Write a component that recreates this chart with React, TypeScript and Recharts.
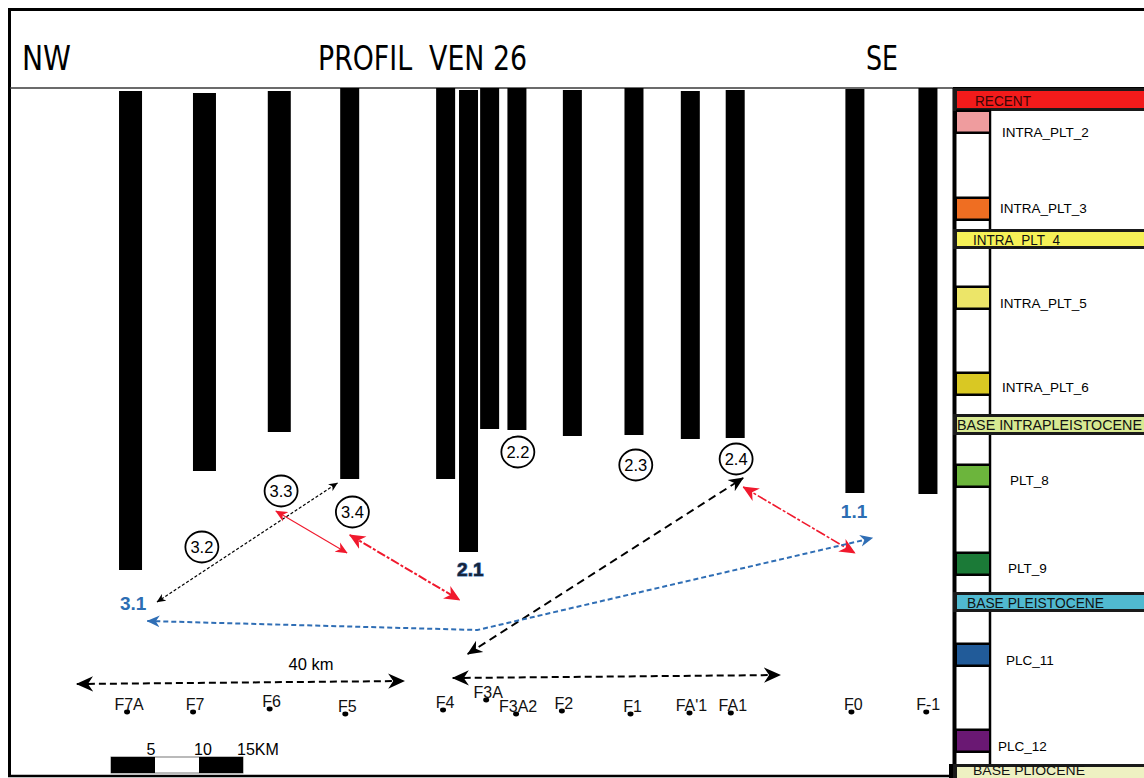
import React from 'react';
import { ComposedChart, Bar, Line, Scatter, XAxis, YAxis, Customized } from 'recharts';

// ---------------- data ----------------
// wells (bars): position along profile (km) and interval (top / base, depth units from header line)
const wellIds = ['F7A', 'F7', 'F6', 'F5', 'F4', 'F3A', 'F3A1', 'F3A2', 'F2', 'F1', "FA'1", 'FA1', 'F0', 'F-1'];
const wellKm = [13.7, 22.1, 30.6, 38.6, 49.5, 52.1, 54.5, 57.6, 63.9, 70.9, 77.3, 82.4, 96.0, 104.3];
const wellTop = [3, 5, 3, 0, 0, 2, 0, 0, 2, 0, 3, 2, 1, 0];
const wellBase = [482, 383, 344, 391, 391, 464, 341, 342, 348, 347, 351, 350, 405, 406];

// surface well markers along the bottom
const markerNames = ['F7A', 'F7', 'F6', 'F5', 'F4', 'F3A', 'F3A2', 'F2', 'F1', "FA'1", 'FA1', 'F0', 'F-1'];
const markerKm = [13.3, 20.8, 29.5, 38.1, 49.2, 54.1, 57.5, 62.7, 70.5, 77.2, 81.9, 95.6, 104.1];
const markerDepth = [624, 624, 621, 626, 622, 612, 626, 623, 626, 625, 625, 624, 624];

// circled annotation tags
const circledTags = ['3.2', '3.3', '3.4', '2.2', '2.3', '2.4'];
const circledKm = [21.8, 30.8, 38.9, 57.7, 71.1, 82.5];
const circledDepth = [459, 403, 424, 364, 377, 371];

// bold tags
const blueTags = ['3.1', '1.1'];
const blueKm = [14.0, 95.9];
const blueDepth = [522, 430];
const navyTags = ['2.1'];
const navyKm = [52.3];
const navyDepth = [488];

// distance label
const distanceText = ['40 km'];
const distanceKm = [34.2];
const distanceDepth = [582];

// arrows (km, depth)
const arrow32to33 = [{ km: 16.7, d: 514 }, { km: 37.2, d: 395 }];
const arrow33to34 = [{ km: 30.2, d: 423 }, { km: 38.3, d: 465 }];
const arrow34to21 = [{ km: 38.6, d: 447 }, { km: 51.1, d: 512 }];
const arrow24toF3 = [{ km: 52.0, d: 566 }, { km: 83.3, d: 390 }];
const arrow24to11 = [{ km: 83.3, d: 399 }, { km: 96.0, d: 465 }];
const arrow31to11 = [{ km: 15.6, d: 533 }, { km: 53.1, d: 542 }, { km: 98.0, d: 450 }];
const span40kmA = [{ km: 7.6, d: 596 }, { km: 44.8, d: 593 }];
const span40kmB = [{ km: 50.3, d: 590 }, { km: 87.5, d: 587 }];

// legend
const legendBandNames = ['RECENT', 'INTRA_PLT_4', 'BASE INTRAPLEISTOCENE', 'BASE PLEISTOCENE', 'BASE PLIOCENE'];
const legendBandColors = ['#f31b1b', '#f6f157', '#d8e992', '#50b9d0', '#eef1c2'];
const legendSwatchNames = ['INTRA_PLT_2', 'INTRA_PLT_3', 'INTRA_PLT_5', 'INTRA_PLT_6', 'PLT_8', 'PLT_9', 'PLC_11', 'PLC_12'];
const legendSwatchColors = ['#ef9c9e', '#ef6e22', '#ece568', '#d9c823', '#6cb53c', '#1b7a37', '#215b99', '#6a1873'];
const scaleTicks = ['5', '10', '15KM'];

// ---------------- layout (page coordinates) ----------------
const BAND_Y = [91, 232, 417, 595, 767];
const BAND_H = [17, 14, 15, 14, 14];
const BAND_TX = [975, 973, 957, 967, 973];
const BAND_TY = [106, 245, 430, 608, 775];
const BAND_FS = [14.5, 14, 14.5, 14, 12];
const BAND_TL = [56, 87, 185, 137, 112];
const SWATCH_Y = [112, 199, 288, 374, 466, 554, 645, 731];
const SWATCH_TX = [1002, 1000, 1000, 1002, 1010, 1008, 1006, 998];
const SWATCH_TY = [137, 213, 308, 392, 485, 573, 665, 751];
const COLUMN_SEGS = [[108, 229], [249, 415], [434, 593], [612, 765]];

const FONT = "'Liberation Sans', Arial, sans-serif";
const NARROW = "'Liberation Sans Narrow', 'DejaVu Sans Condensed', 'Liberation Sans', sans-serif";

const Decor = () => (
  <g>
    {/* frame */}
    <line x1={8} y1={9.5} x2={1144} y2={9.5} stroke="#000" strokeWidth={3} />
    <line x1={9.5} y1={8} x2={9.5} y2={777} stroke="#000" strokeWidth={3} />
    <line x1={8} y1={776} x2={952} y2={776} stroke="#000" strokeWidth={2.5} />
    <line x1={10} y1={88} x2={954} y2={88} stroke="#3a3a3a" strokeWidth={1.5} />
    {/* header */}
    <text x={22} y={70} fontSize={34} fontFamily={NARROW} textLength={49} lengthAdjust="spacingAndGlyphs">NW</text>
    <text x={318} y={70} fontSize={34} fontFamily={NARROW} textLength={209} lengthAdjust="spacingAndGlyphs">{'PROFIL\u00a0\u00a0VEN 26'}</text>
    <text x={866} y={70} fontSize={34} fontFamily={NARROW} textLength={32} lengthAdjust="spacingAndGlyphs">SE</text>
    {/* legend column */}
    {COLUMN_SEGS.map(([a, b], i) => (
      <line key={'c' + i} x1={990} y1={a} x2={990} y2={b} stroke="#000" strokeWidth={2.5} />
    ))}
    <line x1={954.5} y1={88} x2={954.5} y2={766} stroke="#000" strokeWidth={4} />
    <line x1={951} y1={764} x2={951} y2={778} stroke="#000" strokeWidth={4} />
    <line x1={953} y1={88.5} x2={1144} y2={88.5} stroke="#000" strokeWidth={3} />
    {legendBandNames.map((n, i) => (
      <g key={'b' + i}>
        <rect x={953} y={BAND_Y[i] - 3} width={191} height={BAND_H[i] + 6} fill="#1a1a1a" />
        <rect x={957} y={BAND_Y[i]} width={187} height={BAND_H[i]} fill={legendBandColors[i]} />
        <text x={BAND_TX[i]} y={BAND_TY[i]} fontSize={BAND_FS[i]} fontFamily={FONT}
          textLength={BAND_TL[i]} lengthAdjust="spacingAndGlyphs"
          fill={i === 0 ? '#3a0606' : '#111'}>{n}</text>
      </g>
    ))}
    {legendSwatchNames.map((n, i) => (
      <g key={'s' + i}>
        <rect x={956} y={SWATCH_Y[i] - 2.5} width={35} height={24.5} fill="#000" />
        <rect x={957} y={SWATCH_Y[i]} width={32} height={19.5} fill={legendSwatchColors[i]} />
        <text x={SWATCH_TX[i]} y={SWATCH_TY[i]} fontSize={13.5} fontFamily={FONT} fill="#000">{n}</text>
      </g>
    ))}
    {/* scale bar */}
    <rect x={111} y={757} width={132} height={16} fill="#fff" stroke="#777" strokeWidth={1} />
    <rect x={111} y={757} width={44} height={16} fill="#000" />
    <rect x={199} y={757} width={44} height={16} fill="#000" />
    <text x={151} y={755} fontSize={16} fontFamily={FONT} textAnchor="middle">{scaleTicks[0]}</text>
    <text x={203} y={755} fontSize={16} fontFamily={FONT} textAnchor="middle">{scaleTicks[1]}</text>
    <text x={237} y={755} fontSize={16} fontFamily={FONT}>{scaleTicks[2]}</text>
  </g>
);

const WellBar = (p: any) => {
  const { x, y, width, height, index } = p;
  const w = index < 3 ? 23 : 19;
  const top = Math.min(y, y + height);
  return <rect x={x + width / 2 - w / 2} y={top} width={w} height={Math.abs(height)} fill="#000" />;
};

const WellMark = (p: any) => (
  <g>
    <ellipse cx={p.cx} cy={p.cy} rx={3} ry={2.4} fill="#000" />
    <text x={p.cx + 2} y={p.cy - 2} textAnchor="middle" fontSize={16} fontFamily={FONT} fill="#111">{p.payload.name}</text>
  </g>
);

const CircledTag = (p: any) => (
  <g>
    <ellipse cx={p.cx} cy={p.cy} rx={16.5} ry={15.5} fill="#fff" stroke="#000" strokeWidth={1.8} />
    <text x={p.cx} y={p.cy + 6} textAnchor="middle" fontSize={16.5} fontFamily={FONT} fill="#000">{p.payload.name}</text>
  </g>
);

const BlueTag = (p: any) => (
  <text x={p.cx} y={p.cy} textAnchor="middle" fontSize={19} fontWeight="bold" fontFamily={FONT} fill="#2c6db3">{p.payload.name}</text>
);

const NavyTag = (p: any) => (
  <text x={p.cx} y={p.cy} textAnchor="middle" fontSize={19} fontWeight="bold" fontFamily={FONT} fill="#16243a" stroke="#3a70b0" strokeWidth={1.1} style={{ paintOrder: 'stroke' }}>{p.payload.name}</text>
);

const DistanceTag = (p: any) => (
  <text x={p.cx} y={p.cy} textAnchor="middle" fontSize={16.5} fontFamily={FONT} fill="#000">{p.payload.name}</text>
);

const ArrowMarker = ({ id, color, size }: { id: string; color: string; size: number }) => (
  <marker id={id} viewBox="0 0 20 20" refX={19} refY={10} markerWidth={size} markerHeight={size}
    markerUnits="userSpaceOnUse" orient="auto-start-reverse">
    <path d="M0,1 L20,10 L0,19 L6,10 Z" fill={color} />
  </marker>
);

const zip3 = (names: string[], km: number[], d: number[]) => names.map((name, i) => ({ name, km: km[i], d: d[i] }));

export default function App() {
  const wells = wellIds.map((id, i) => ({ id, km: wellKm[i], range: [wellBase[i], wellTop[i]] }));
  const markers = zip3(markerNames, markerKm, markerDepth);
  const circled = zip3(circledTags, circledKm, circledDepth);
  const blue = zip3(blueTags, blueKm, blueDepth);
  const navy = zip3(navyTags, navyKm, navyDepth);
  const dist = zip3(distanceText, distanceKm, distanceDepth);

  const lineCommon = { dataKey: 'd', type: 'linear' as const, dot: false, activeDot: false, isAnimationActive: false, legendType: 'none' as const };

  return (
    <div style={{ position: 'absolute', left: 0, top: 0, width: 1144, height: 778, background: '#fff', overflow: 'hidden' }}>
      <svg width={0} height={0} style={{ position: 'absolute' }}>
        <defs>
          <ArrowMarker id="mkBlackS" color="#000" size={9} />
          <ArrowMarker id="mkBlackM" color="#000" size={15} />
          <ArrowMarker id="mkBlackL" color="#000" size={17} />
          <ArrowMarker id="mkRedM" color="#f0192d" size={12} />
          <ArrowMarker id="mkRedL" color="#f0192d" size={16} />
          <ArrowMarker id="mkBlue" color="#2f6eb5" size={13} />
        </defs>
      </svg>
      <ComposedChart width={1144} height={778} data={wells} margin={{ top: 88, right: 194, bottom: 3, left: 10 }}>
        <XAxis type="number" dataKey="km" domain={[0, 106.8]} allowDataOverflow hide />
        <YAxis type="number" domain={[0, 687]} reversed allowDataOverflow hide />
        <Customized component={<Decor />} />
        <Bar dataKey="range" barSize={19} shape={WellBar} isAnimationActive={false} />
        <Line {...lineCommon} data={arrow32to33} stroke="#000" strokeWidth={1.2} strokeDasharray="3 2"
          markerStart="url(#mkBlackS)" markerEnd="url(#mkBlackS)" />
        <Line {...lineCommon} data={arrow33to34} stroke="#f0192d" strokeWidth={1.1}
          markerStart="url(#mkRedM)" markerEnd="url(#mkRedM)" />
        <Line {...lineCommon} data={arrow34to21} stroke="#f0192d" strokeWidth={2} strokeDasharray="9 2 3 2"
          markerStart="url(#mkRedL)" markerEnd="url(#mkRedL)" />
        <Line {...lineCommon} data={arrow24toF3} stroke="#000" strokeWidth={2} strokeDasharray="8 5"
          markerStart="url(#mkBlackM)" markerEnd="url(#mkBlackM)" />
        <Line {...lineCommon} data={arrow24to11} stroke="#f0192d" strokeWidth={1.6} strokeDasharray="10 2 3 2"
          markerStart="url(#mkRedL)" markerEnd="url(#mkRedL)" />
        <Line {...lineCommon} data={arrow31to11} stroke="#2f6eb5" strokeWidth={2} strokeDasharray="5 3"
          markerStart="url(#mkBlue)" markerEnd="url(#mkBlue)" />
        <Line {...lineCommon} data={span40kmA} stroke="#000" strokeWidth={2} strokeDasharray="7 4"
          markerStart="url(#mkBlackL)" markerEnd="url(#mkBlackL)" />
        <Line {...lineCommon} data={span40kmB} stroke="#000" strokeWidth={2} strokeDasharray="7 4"
          markerStart="url(#mkBlackL)" markerEnd="url(#mkBlackL)" />
        <Scatter data={markers} dataKey="d" shape={WellMark} isAnimationActive={false} />
        <Scatter data={circled} dataKey="d" shape={CircledTag} isAnimationActive={false} />
        <Scatter data={blue} dataKey="d" shape={BlueTag} isAnimationActive={false} />
        <Scatter data={navy} dataKey="d" shape={NavyTag} isAnimationActive={false} />
        <Scatter data={dist} dataKey="d" shape={DistanceTag} isAnimationActive={false} />
      </ComposedChart>
    </div>
  );
}
